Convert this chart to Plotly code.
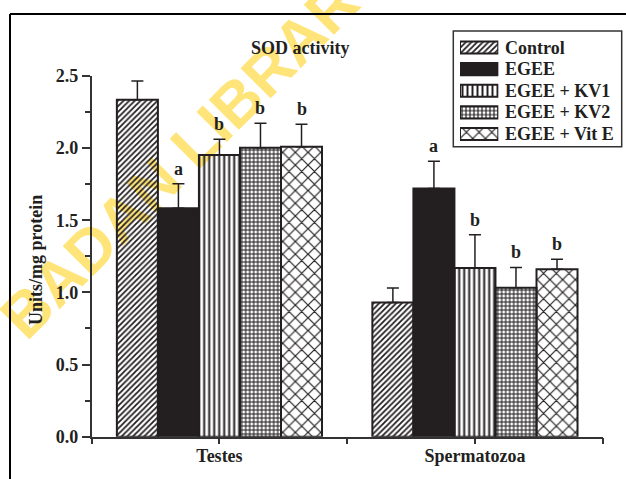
import plotly.graph_objects as go

# ---- data -------------------------------------------------------------
groups = ["Testes", "Spermatozoa"]
series = ["Control", "EGEE", "EGEE + KV1", "EGEE + KV2", "EGEE + Vit E"]

control = [2.335, 0.930]
egee = [1.583, 1.720]
kv1 = [1.952, 1.170]
kv2 = [2.003, 1.033]
vite = [2.010, 1.160]

control_err = [0.13, 0.10]
egee_err = [0.17, 0.19]
kv1_err = [0.11, 0.23]
kv2_err = [0.17, 0.14]
vite_err = [0.155, 0.07]

control_sig = ["", ""]
egee_sig = ["a", "a"]
kv1_sig = ["b", "b"]
kv2_sig = ["b", "b"]
vite_sig = ["b", "b"]

y_ticks = [0.0, 0.5, 1.0, 1.5, 2.0, 2.5]

values = [control, egee, kv1, kv2, vite]
errors = [control_err, egee_err, kv1_err, kv2_err, vite_err]
letters = [control_sig, egee_sig, kv1_sig, kv2_sig, vite_sig]

# ---- styling ----------------------------------------------------------
W, H = 626, 479
ML, MR, MT, MB = 0, 0, 20, 20
INK = "#231f20"
FONT = "Liberation Serif"
BARGAP = 0.197

patterns = [
    dict(shape="/", size=4, solidity=0.45, fgcolor=INK, fillmode="replace"),
    None,
    dict(shape="|", size=5, solidity=0.4, fgcolor=INK, fillmode="replace"),
    dict(shape="+", size=4, solidity=0.5, fgcolor=INK, fillmode="replace"),
    dict(shape="x", size=9, solidity=0.25, fgcolor=INK, fillmode="replace"),
]


def fx(px):
    """pixel column -> paper x"""
    return (px - ML) / (W - ML - MR)


def fy(py):
    """pixel row (from top) -> paper y"""
    return (H - MB - py) / (H - MT - MB)


x_pos = list(range(len(groups)))

fig = go.Figure()

for i, name in enumerate(series):
    pat = patterns[i]
    marker = dict(line=dict(color=INK, width=2))
    if pat is None:
        marker["color"] = INK
    else:
        marker["color"] = "rgba(0,0,0,0)"
        marker["pattern"] = pat
    fig.add_trace(go.Bar(
        name=name, x=x_pos, y=values[i], marker=marker,
        error_y=dict(type="data", symmetric=False, array=errors[i],
                     arrayminus=[0] * len(groups), color=INK,
                     thickness=1.5, width=6),
        showlegend=False,
    ))
    # legend swatch drawn on a small inset axis
    fig.add_trace(go.Bar(
        x=[1], y=[i], orientation="h", width=0.56, marker=marker,
        xaxis="x2", yaxis="y2", showlegend=False, hoverinfo="skip",
    ))

annotations = []
bw = (1 - BARGAP) / len(series)
for i in range(len(series)):
    for g in range(len(groups)):
        if letters[i][g]:
            annotations.append(dict(
                x=x_pos[g] + (i - (len(series) - 1) / 2) * bw,
                y=values[i][g] + errors[i][g], xref="x", yref="y",
                text=letters[i][g], showarrow=False,
                xanchor="center", yanchor="bottom",
                yshift=3, font=dict(size=18)))

# legend labels
for i, name in enumerate(series):
    annotations.append(dict(x=fx(503), y=fy(47.5 + 21.6 * i), xref="paper",
                            yref="paper", text=name, showarrow=False,
                            xanchor="left", yanchor="middle",
                            font=dict(size=18)))

annotations.append(dict(x=fx(300), y=fy(47.7), xref="paper", yref="paper",
                        text="SOD activity", showarrow=False,
                        xanchor="center", yanchor="middle",
                        font=dict(size=18)))
annotations.append(dict(x=fx(36), y=fy(260), xref="paper", yref="paper",
                        text="Units/mg protein", showarrow=False,
                        xanchor="center", yanchor="middle",
                        textangle=-90, font=dict(size=18)))

shapes = [
    # library stamp behind the bars
    dict(type="line", xref="paper", yref="paper", layer="below",
         x0=fx(189 - 150), y0=fy(141 + 150), x1=fx(189 + 150), y1=fy(141 - 150),
         line=dict(color="rgba(0,0,0,0)", width=0),
         label=dict(text="BADAN LIBRARY", textangle=-45, textposition="middle",
                    yanchor="middle",
                    font=dict(family="Liberation Sans", size=62,
                              color="#FFE47A", weight="bold"))),
    # legend box
    dict(type="rect", xref="paper", yref="paper", layer="below",
         x0=fx(453.3), x1=fx(621.7), y0=fy(146.7), y1=fy(31),
         line=dict(color="#333333", width=1.5), fillcolor="white"),
    # outer frame
    dict(type="line", xref="paper", yref="paper", x0=fx(10), x1=fx(10),
         y0=fy(H), y1=fy(14), line=dict(color="black", width=2)),
    dict(type="line", xref="paper", yref="paper", x0=fx(10), x1=fx(W),
         y0=fy(14), y1=fy(14), line=dict(color="black", width=2)),
]

fig.update_layout(
    width=W, height=H,
    margin=dict(l=ML, r=MR, t=MT, b=MB, autoexpand=False),
    paper_bgcolor="white", plot_bgcolor="rgba(0,0,0,0)",
    font=dict(family=FONT, size=18, color=INK, weight="bold"),
    barmode="group", bargap=BARGAP, bargroupgap=0,
    xaxis=dict(domain=[fx(91.7), fx(602.7)], range=[-0.5, 1.5],
               tickvals=[-0.5, 0, 0.5, 1, 1.5],
               ticktext=["", groups[0], "", groups[1], ""],
               ticks="outside", ticklen=6, tickwidth=1.5, tickcolor="#333333",
               ticklabelstandoff=-4,
               showline=True, linecolor="#333333", linewidth=1.5,
               showgrid=False, zeroline=False, fixedrange=True),
    yaxis=dict(domain=[fy(436.7), fy(76)], range=[0, 2.5],
               tickvals=y_ticks, tickformat=".1f",
               ticks="outside", ticklen=8, tickwidth=1.5, tickcolor="#333333",
               minor=dict(dtick=0.25, ticks="outside", ticklen=4.5,
                          tickwidth=1.5, tickcolor="#333333"),
               showline=True, linecolor="#333333", linewidth=1.5,
               showgrid=False, zeroline=False, fixedrange=True),
    xaxis2=dict(domain=[fx(460), fx(498.3)], range=[0, 1], visible=False,
                anchor="y2", fixedrange=True),
    yaxis2=dict(domain=[fy(144.8), fy(36.7)], range=[4.5, -0.5], visible=False,
                anchor="x2", fixedrange=True),
    annotations=annotations,
    shapes=shapes,
)

fig.write_html("out.html")
